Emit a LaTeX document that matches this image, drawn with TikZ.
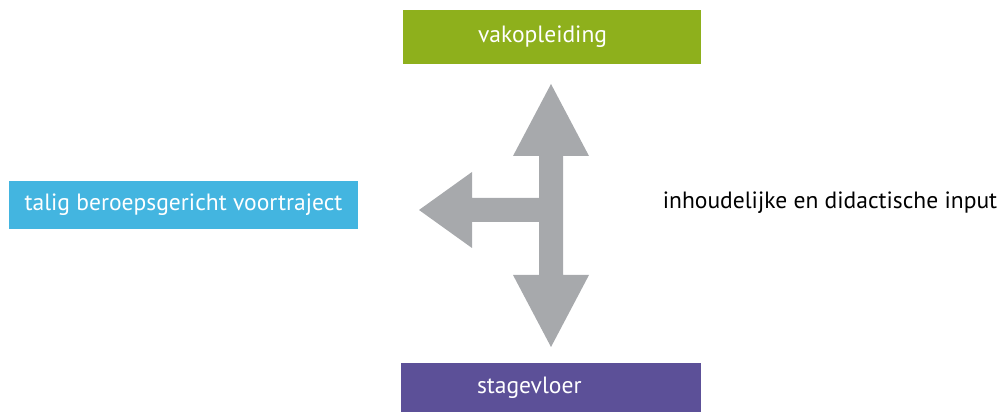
\documentclass[tikz,border=0pt]{standalone}
\usepackage{fontspec}
\setmainfont{PT Sans}
\usetikzlibrary{positioning}
\definecolor{vakgroen}{RGB}{142,176,28}
\definecolor{taligblauw}{RGB}{67,181,224}
\definecolor{stagepaars}{RGB}{92,80,152}
\definecolor{pijlgrijs}{RGB}{167,169,172}
\tikzset{
    %Define style for boxes
    blok/.style={
           rectangle,
           inner sep=0pt,
           text=white,
           text centered},
    %Define style for the boxes with text set to the left
    linksblok/.style={
           blok,
           inner xsep=1.5cm,
           text width=2.96cm,
           align=left},
    %Define style for the arrow
    pijl/.style={
           fill=pijlgrijs,
           draw=none}
}
\begin{document}
\begin{tikzpicture}[font=\fontsize{13.4}{16}\selectfont]
\useasboundingbox (0,0) rectangle (20,8.24);
\node[linksblok, fill=vakgroen, minimum width=5.96cm, minimum height=1.08cm] (vak) at (11.04,7.5) {vakopleiding};
\node[blok, fill=taligblauw, minimum width=6.98cm, minimum height=0.96cm] (talig) at (3.67,4.14) {talig beroepsgericht voortraject};
\node[linksblok, fill=stagepaars, minimum width=6cm, minimum height=0.98cm] (stage) at (11.02,0.49) {stagevloer};
\node[] (input) at (16.6,4.18) {inhoudelijke en didactische input};

% grey three-way arrow
\fill[pijl] (11.02,6.56) -- (11.78,5.12) -- (11.26,5.12) -- (11.26,2.74) -- (11.78,2.74)
    -- (11.02,1.30) -- (10.26,2.74) -- (10.78,2.74) -- (10.78,3.80) -- (9.44,3.80)
    -- (9.44,3.28) -- (8.38,4.04) -- (9.44,4.80) -- (9.44,4.28) -- (10.78,4.28)
    -- (10.78,5.12) -- (10.26,5.12) -- cycle;

\end{tikzpicture}
\end{document}
